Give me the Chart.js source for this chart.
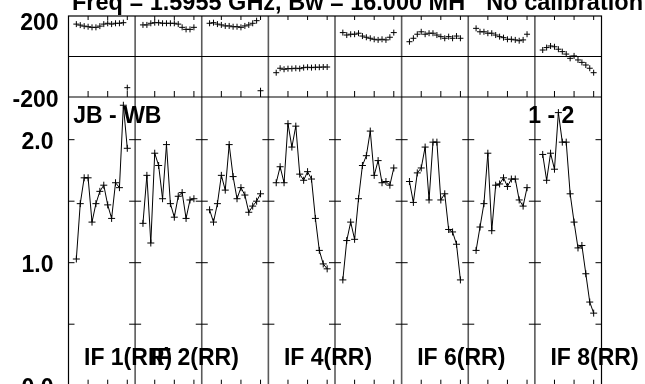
<!DOCTYPE html>
<html>
<head>
<meta charset="utf-8">
<script src="https://cdn.jsdelivr.net/npm/chart.js@4.4.1/dist/chart.umd.min.js"></script>
<style>
  html, body { margin: 0; padding: 0; background: #fff; overflow: hidden; }
  #wrap { width: 645px; height: 384px; overflow: hidden; }
  canvas { display: block; }
</style>
</head>
<body>
<div id="wrap"><canvas id="plot" width="645" height="400"></canvas></div>
<script>
// kanaler som ritas i varje IF-panel, panelbredd i kanaler
const channels = [2, 3, 4, 5, 6, 7, 8, 9, 10, 11, 12, 13, 14, 15];
const panelWidth = 17;

// amplitud per IF
const amp1 = [1.03, 1.48, 1.69, 1.69, 1.33, 1.48, 1.58, 1.63, 1.47, 1.36, 1.65, 1.61, 2.28, 1.93];
const amp2 = [1.32, 1.71, 1.16, 1.89, 1.79, 1.52, 1.96, 1.48, 1.37, 1.54, 1.57, 1.36, 1.51, 1.52];
const amp3 = [1.43, 1.33, 1.48, 1.71, 1.59, 1.96, 1.70, 1.52, 1.61, 1.55, 1.41, 1.46, 1.50, 1.56];
const amp4 = [1.65, 1.78, 1.65, 2.13, 1.94, 2.11, 1.72, 1.67, 1.74, 1.68, 1.36, 1.10, 0.99, 0.95];
const amp5 = [0.86, 1.18, 1.33, 1.19, 1.52, 1.79, 1.87, 2.07, 1.71, 1.83, 1.65, 1.66, 1.63, 1.77];
const amp6 = [1.66, 1.49, 1.73, 1.77, 1.94, 1.51, 1.98, 1.98, 1.51, 1.56, 1.27, 1.25, 1.15, 0.86];
const amp7 = [1.10, 1.29, 1.48, 1.89, 1.26, 1.63, 1.64, 1.69, 1.62, 1.68, 1.68, 1.51, 1.46, 1.61];
const amp8 = [1.88, 1.67, 1.89, 1.76, 2.22, 1.98, 1.98, 1.56, 1.33, 1.12, 1.14, 0.91, 0.68, 0.59];

// fas per IF (grader)
const ph1 = [160, 155, 150, 147, 144, 144, 150, 160, 164, 160, 164, 164, 167, -154];
const ph2 = [156, 156, 164, 167, 167, 164, 164, 164, 164, 160, 144, 134, 134, 144];
const ph3 = [164, 167, 160, 156, 151, 151, 147, 147, 144, 151, 156, 164, 177, -169];
const ph4 = [-80, -58, -63, -60, -60, -58, -60, -55, -53, -55, -53, -53, -52, -52];
const ph5 = [118, 106, 110, 110, 115, 101, 95, 90, 85, 82, 85, 82, 95, 118];
const ph6 = [73, 90, 110, 122, 110, 115, 115, 106, 98, 90, 98, 90, 101, 90];
const ph7 = [139, 122, 122, 115, 115, 106, 98, 93, 85, 85, 82, 78, 82, 110];
const ph8 = [32, 44, 52, 48, 36, 24, 12, -9, 3, -17, -29, -42, -58, -80];

const ampSeries = [amp1, amp2, amp3, amp4, amp5, amp6, amp7, amp8];
const phaseSeries = [ph1, ph2, ph3, ph4, ph5, ph6, ph7, ph8];

// etiketter
const ifLabels = ["IF 1(RR)", "IF 2(RR)", "", "IF 4(RR)", "", "IF 6(RR)", "", "IF 8(RR)"];
const chanTicks = [5, 10, 15];
const ampTicks = [0.5, 1.0, 1.5, 2.0];
const ampTickLabels = ["0.0", "1.0", "2.0"];
const phaseTickLabels = ["200", "-200"];
const titleLeft = "Freq = 1.5955 GHz, Bw = 16.000 MH";
const titleRight = "No calibration";
const baselineLabel = "JB - WB";
const stokesLabel = "1 - 2";

const FONT = '"Liberation Sans", Arial, sans-serif';

const datasets = [];
ampSeries.forEach((amps, i) => {
    datasets.push({
        data: channels.map((c, j) => ({ x: i * panelWidth + c, y: amps[j] })),
        yAxisID: "yAmp",
        showLine: true,
        borderColor: "#000",
        borderWidth: 1,
        pointStyle: "cross",
        pointRadius: 3.5,
        pointBorderWidth: 1,
        pointBorderColor: "#000"
    });
});
phaseSeries.forEach((phs, i) => {
    datasets.push({
        data: channels.map((c, j) => ({ x: i * panelWidth + c, y: phs[j] })),
        yAxisID: "yPh",
        showLine: false,
        pointStyle: "cross",
        pointRadius: 3,
        pointBorderWidth: 1,
        pointBorderColor: "#000"
    });
});

function seg(ctx, x1, y1, x2, y2) {
    ctx.beginPath();
    ctx.moveTo(x1, y1);
    ctx.lineTo(x2, y2);
    ctx.stroke();
}

/**
 * ritar ramar, panelgränser, tickar och all text
 */
const framePlugin = {
    id: "frame",
    beforeDatasetsDraw(chart) {
        const { ctx, chartArea: a, scales } = chart;
        const x = scales.x, yAmp = scales.yAmp, yPh = scales.yPh;
        const yb = yPh.bottom;
        ctx.save();

        // panelgränser
        ctx.strokeStyle = "#5a5a5a";
        ctx.lineWidth = 1.6;
        for (let k = 1; k < 8; k++) {
            const px = x.getPixelForValue(k * panelWidth);
            seg(ctx, px, a.top, px, a.bottom);
        }

        ctx.strokeStyle = "#000";
        ctx.lineWidth = 1.2;
        ctx.strokeRect(a.left, a.top, a.right - a.left, a.bottom - a.top);
        seg(ctx, a.left, yb, a.right, yb);
        const y0 = yPh.getPixelForValue(0);
        seg(ctx, a.left, y0, a.right, y0);

        // kanaltickar
        ctx.lineWidth = 1;
        for (let k = 0; k < 8; k++) {
            chanTicks.forEach(c => {
                const px = x.getPixelForValue(k * panelWidth + c);
                seg(ctx, px, a.top, px, a.top + 4);
                seg(ctx, px, yb - 6, px, yb);
                seg(ctx, px, a.bottom - 6, px, a.bottom);
            });
        }

        // amplitudtickar på varje panelgräns
        for (let k = 0; k <= 8; k++) {
            const px = x.getPixelForValue(k * panelWidth);
            ampTicks.forEach(v => {
                const py = yAmp.getPixelForValue(v);
                seg(ctx, k > 0 ? px - 6 : px, py, k < 8 ? px + 6 : px, py);
            });
        }
        ctx.restore();
    },
    afterDatasetsDraw(chart) {
        const { ctx, scales } = chart;
        const x = scales.x, yAmp = scales.yAmp, yPh = scales.yPh;
        ctx.save();
        ctx.fillStyle = "#000";
        ctx.textBaseline = "alphabetic";

        // titel
        ctx.font = "bold 23.5px " + FONT;
        ctx.textAlign = "left";
        ctx.fillText(titleLeft, 72, 10);
        ctx.textAlign = "right";
        ctx.fillText(titleRight, 643, 10);

        ctx.font = "bold 23px " + FONT;

        // axeltext
        ctx.textAlign = "right";
        phaseTickLabels.forEach(t => {
            const py = yPh.getPixelForValue(Number(t));
            ctx.fillText(t, 58.5, Math.max(py + 9.5, 29.5));
        });
        ampTickLabels.forEach(t => {
            const py = yAmp.getPixelForValue(Number(t));
            ctx.fillText(t, 53.5, py + 9.3);
        });

        // baslinje och stokes
        ctx.textAlign = "left";
        ctx.fillText(baselineLabel, 73.3, 123.3);
        ctx.fillText(stokesLabel, 528.3, 123.3);

        // IF-etiketter
        ifLabels.forEach((t, k) => {
            if (!t) return;
            const px = x.getPixelForValue(k * panelWidth);
            ctx.fillText(t, px + 15.5, 365);
        });
        ctx.restore();
    }
};

new Chart(document.getElementById("plot"), {
    type: "scatter",
    data: { datasets: datasets },
    options: {
        responsive: false,
        animation: false,
        devicePixelRatio: 1,
        layout: { padding: { top: 16, bottom: 14.3, left: 0, right: 43.5 } },
        plugins: { legend: { display: false }, tooltip: { enabled: false }, title: { display: false } },
        scales: {
            x: { type: "linear", min: 0, max: 8 * panelWidth, display: false },
            yAmp: {
                type: "linear", position: "left", stack: "v", stackWeight: 288.7,
                min: 0, max: 2.347,
                ticks: { display: false }, grid: { display: false }, border: { display: false },
                afterFit: s => { s.width = 68.5; }
            },
            yPh: {
                type: "linear", position: "left", stack: "v", stackWeight: 81,
                min: -200, max: 200,
                ticks: { display: false }, grid: { display: false }, border: { display: false },
                afterFit: s => { s.width = 68.5; }
            }
        }
    },
    plugins: [framePlugin]
});
</script>
</body>
</html>
